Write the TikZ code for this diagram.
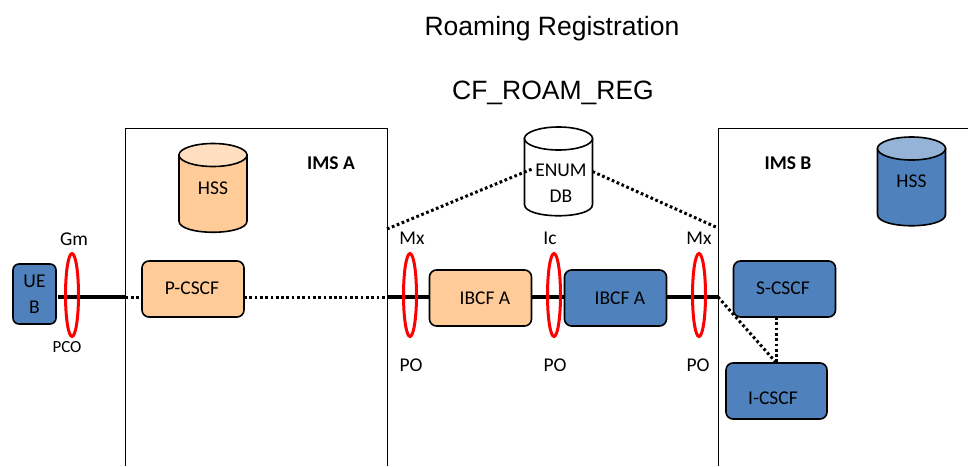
\documentclass[tikz,border=0pt]{standalone}
\usepackage{fontspec}
\setmainfont{Carlito}
\newfontfamily\titlefont{Liberation Sans}
\definecolor{peach}{HTML}{FFCC99}
\definecolor{peachtop}{HTML}{FFDFBF}
\definecolor{imsblue}{HTML}{4F81BD}
\definecolor{imstop}{HTML}{95B3D7}
\usetikzlibrary{shapes.geometric}
\tikzset{
  x=1pt,y=-1pt,
  every node/.style={inner sep=0pt,outer sep=0pt,font=\fontsize{19.5}{26}\selectfont},
  titletext/.style={font=\titlefont\fontsize{26.5}{30}\selectfont},
  smalltext/.style={font=\fontsize{17}{20}\selectfont},
  boldtext/.style={font=\bfseries\fontsize{19.5}{24}\selectfont},
  boxnode/.style={draw=black,line width=1.6pt,rounded corners=7pt,minimum width=#1},
  orangebox/.style={boxnode=102pt,fill=peach,minimum height=56pt},
  bluebox/.style={boxnode=102pt,fill=imsblue,minimum height=56pt},
  dbline/.style={draw=black,line width=1.6pt},
  dbanchor/.style={minimum width=68pt,minimum height=89pt},
  ring/.style={ellipse,draw=red,line width=3pt,minimum width=13pt,minimum height=83pt},
  imsframe/.style={draw=black,line width=0.8pt},
  solidlink/.style={draw=black,line width=4pt},
  dotlink/.style={draw=black,line width=3pt,dash pattern=on 2.7pt off 2.6pt},
}
% name, centre, body colour, top colour, text
\newcommand{\dbcyl}[5]{%
  \begin{scope}[shift={(#2)}]
    \path[dbline,fill=#3] (-34,-33) -- (-34,33) .. controls (-34,48) and (34,48) .. (34,33) -- (34,-33) -- cycle;
    \path[dbline,fill=#4] (0,-33) ellipse [x radius=34pt,y radius=11.5pt];
  \end{scope}
  \node[dbanchor] (#1) at (#2) {#5};
}
\begin{document}
\begin{tikzpicture}
\useasboundingbox (0,0) rectangle (968,466);
\fill[white] (0,0) rectangle (968,466);
% domains
\draw[imsframe] (125.5,466) |- (387,128) -- (387,466);
\draw[imsframe] (718,466) |- (968,128);
% titles
\node[titletext] (title) at (552,29) {Roaming Registration};
\node[titletext] (subtitle) at (553,93) {CF\_ROAM\_REG};
\node[boldtext] (imsa) at (331,163) {IMS A};
\node[boldtext] (imsb) at (788,163) {IMS B};
% free points
\coordinate (gmleft) at (58,297);
\coordinate (aleft) at (125.5,297);
\coordinate (aright) at (387,297);
\coordinate (bleft) at (718,297);
\coordinate (atop) at (387,229);
\coordinate (btop) at (718,228);
\coordinate (enumin) at (532,169);
% nodes
\node[draw=black,line width=1.6pt,rounded corners=6pt,fill=imsblue,minimum width=43pt,minimum height=60pt,align=center] (ue) at (34.5,294) {UE\\B};
\node[orangebox] (pcscf) at (193,289) {};
\node[orangebox] (ibcfa) at (480.5,298) {};
\node[bluebox] (ibcfb) at (615.5,298) {};
\node[bluebox] (scscf) at (784.5,289) {};
\node[bluebox,minimum width=101pt] (icscf) at (776.5,391) {};
\dbcyl{hssa}{213,188}{peach}{peachtop}{HSS}
\dbcyl{hssb}{911.5,181.5}{imsblue}{imstop}{HSS}
\dbcyl{enum}{558.5,171.5}{white}{white}{}
% box labels
\node (pcscfl) at (192,288) {P-CSCF};
\node (ibcfal) at (485,298) {IBCF A};
\node (ibcfbl) at (620,298) {IBCF A};
\node (scscfl) at (783,288) {S-CSCF};
\node (icscfl) at (773,398) {I-CSCF};
\node[align=center] (enuml) at (561,183) {ENUM\\DB};
% links
\draw[solidlink] (gmleft) -- (aleft);
\draw[dotlink] (aleft) -- (pcscf.west |- aleft);
\draw[dotlink] (pcscf.east |- aleft) -- (aright);
\draw[solidlink] (aright) -- (ibcfa.west |- aright);
\draw[solidlink] (ibcfa.east |- aright) -- (ibcfb.west |- aright);
\draw[solidlink] (ibcfb.east |- aright) -- (bleft);
\draw[dotlink] (atop) -- (enumin);
\draw[dotlink] (enum.east) -- (btop);
\draw[dotlink] (bleft) -- (icscf.north);
\draw[dotlink] (scscf.south -| icscf.north) -- (icscf.north);
% interface rings
\node[ring] (gm) at (72,295) {};
\node[ring] (mxa) at (410,295) {};
\node[ring] (ic) at (554,295) {};
\node[ring] (mxb) at (699,295) {};
% interface labels
\node (gml) at (74,239) {Gm};
\node[smalltext] (pco) at (67,347) {PCO};
\node (mxal) at (412,238) {Mx};
\node (icl) at (550,238) {Ic};
\node (mxbl) at (699,238) {Mx};
\node (poa) at (411,365) {PO};
\node (pob) at (555,365) {PO};
\node (poc) at (698,365) {PO};
\end{tikzpicture}
\end{document}
